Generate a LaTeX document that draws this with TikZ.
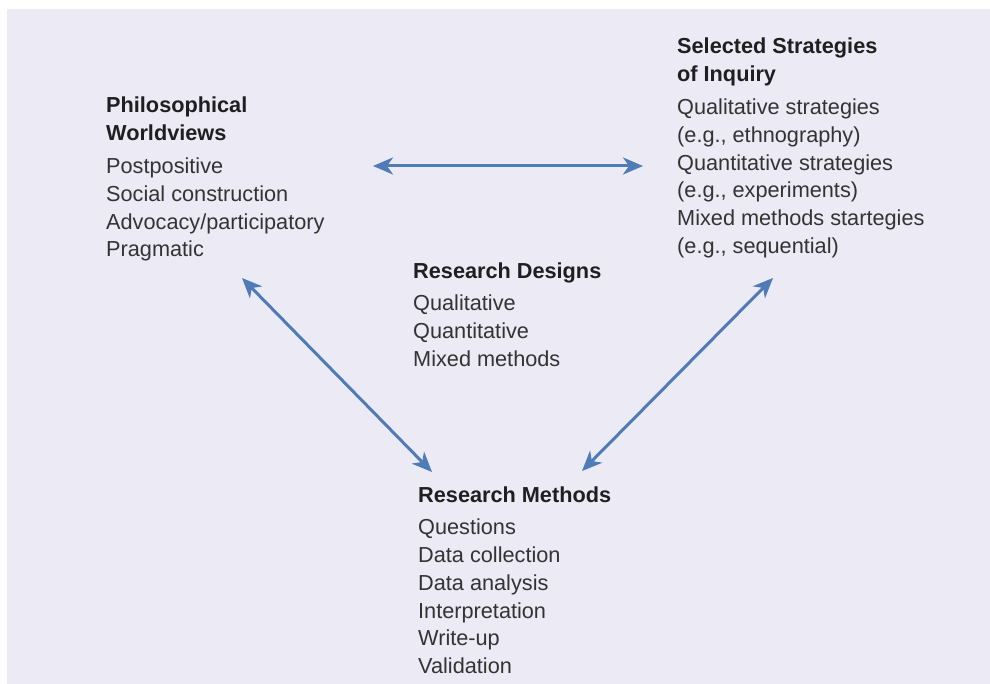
\documentclass[tikz,border=0pt]{standalone}
\usepackage{fontspec}
\setmainfont{Liberation Sans}
\usetikzlibrary{arrows.meta, positioning}

\definecolor{paper}{HTML}{EBEAF5}
\definecolor{arrowblue}{HTML}{4F7BB6}
\definecolor{inktext}{HTML}{333333}

\tikzset{
	block/.style={anchor=north west, inner sep=0pt, align=left, text=inktext,
		font=\fontsize{21.7}{27.8}\selectfont},
	link/.style={arrowblue, line width=3pt,
		{Stealth[length=20pt,width=17pt,inset=6pt]}-{Stealth[length=20pt,width=17pt,inset=6pt]}}
}
\newcommand{\hd}[1]{{\color{black!88}\bfseries #1}}

\begin{document}
\begin{tikzpicture}[x=1pt,y=-1pt]
			\useasboundingbox (0,0) rectangle (990,684);
			\fill[white] (0,0) rectangle (990,684);
			\fill[paper] (7,9) rectangle (990,684);

			\node[block] (pw) at (106,97)	{\hd{Philosophical}\\\hd{Worldviews}\\[5pt]
				Postpositive\\Social construction\\Advocacy/participatory\\Pragmatic};
			\node[block] (si) at (677,38)	{\hd{Selected Strategies}\\\hd{of Inquiry}\\[5pt]
				Qualitative strategies\\(e.g., ethnography)\\Quantitative strategies\\(e.g., experiments)\\Mixed methods startegies\\(e.g., sequential)};
			\node[block] (rd) at (413,263)	{\hd{Research Designs}\\[4pt]
				Qualitative\\Quantitative\\Mixed methods};
			\node[block] (rm) at (418,487)	{\hd{Research Methods}\\[4pt]
				Questions\\Data collection\\Data analysis\\Interpretation\\Write-up\\Validation};

			% arrow ends
			\coordinate (pw-r) at (373,166);
			\coordinate (si-l) at (643,166);
			\coordinate (pw-b) at (242,278);
			\coordinate (rm-l) at (432,472);
			\coordinate (si-b) at (773,278);
			\coordinate (rm-r) at (582,471);

			\draw[link] (pw-r) -- (si-l);
			\draw[link] (pw-b) -- (rm-l);
			\draw[link] (si-b) -- (rm-r);
\end{tikzpicture}
\end{document}
